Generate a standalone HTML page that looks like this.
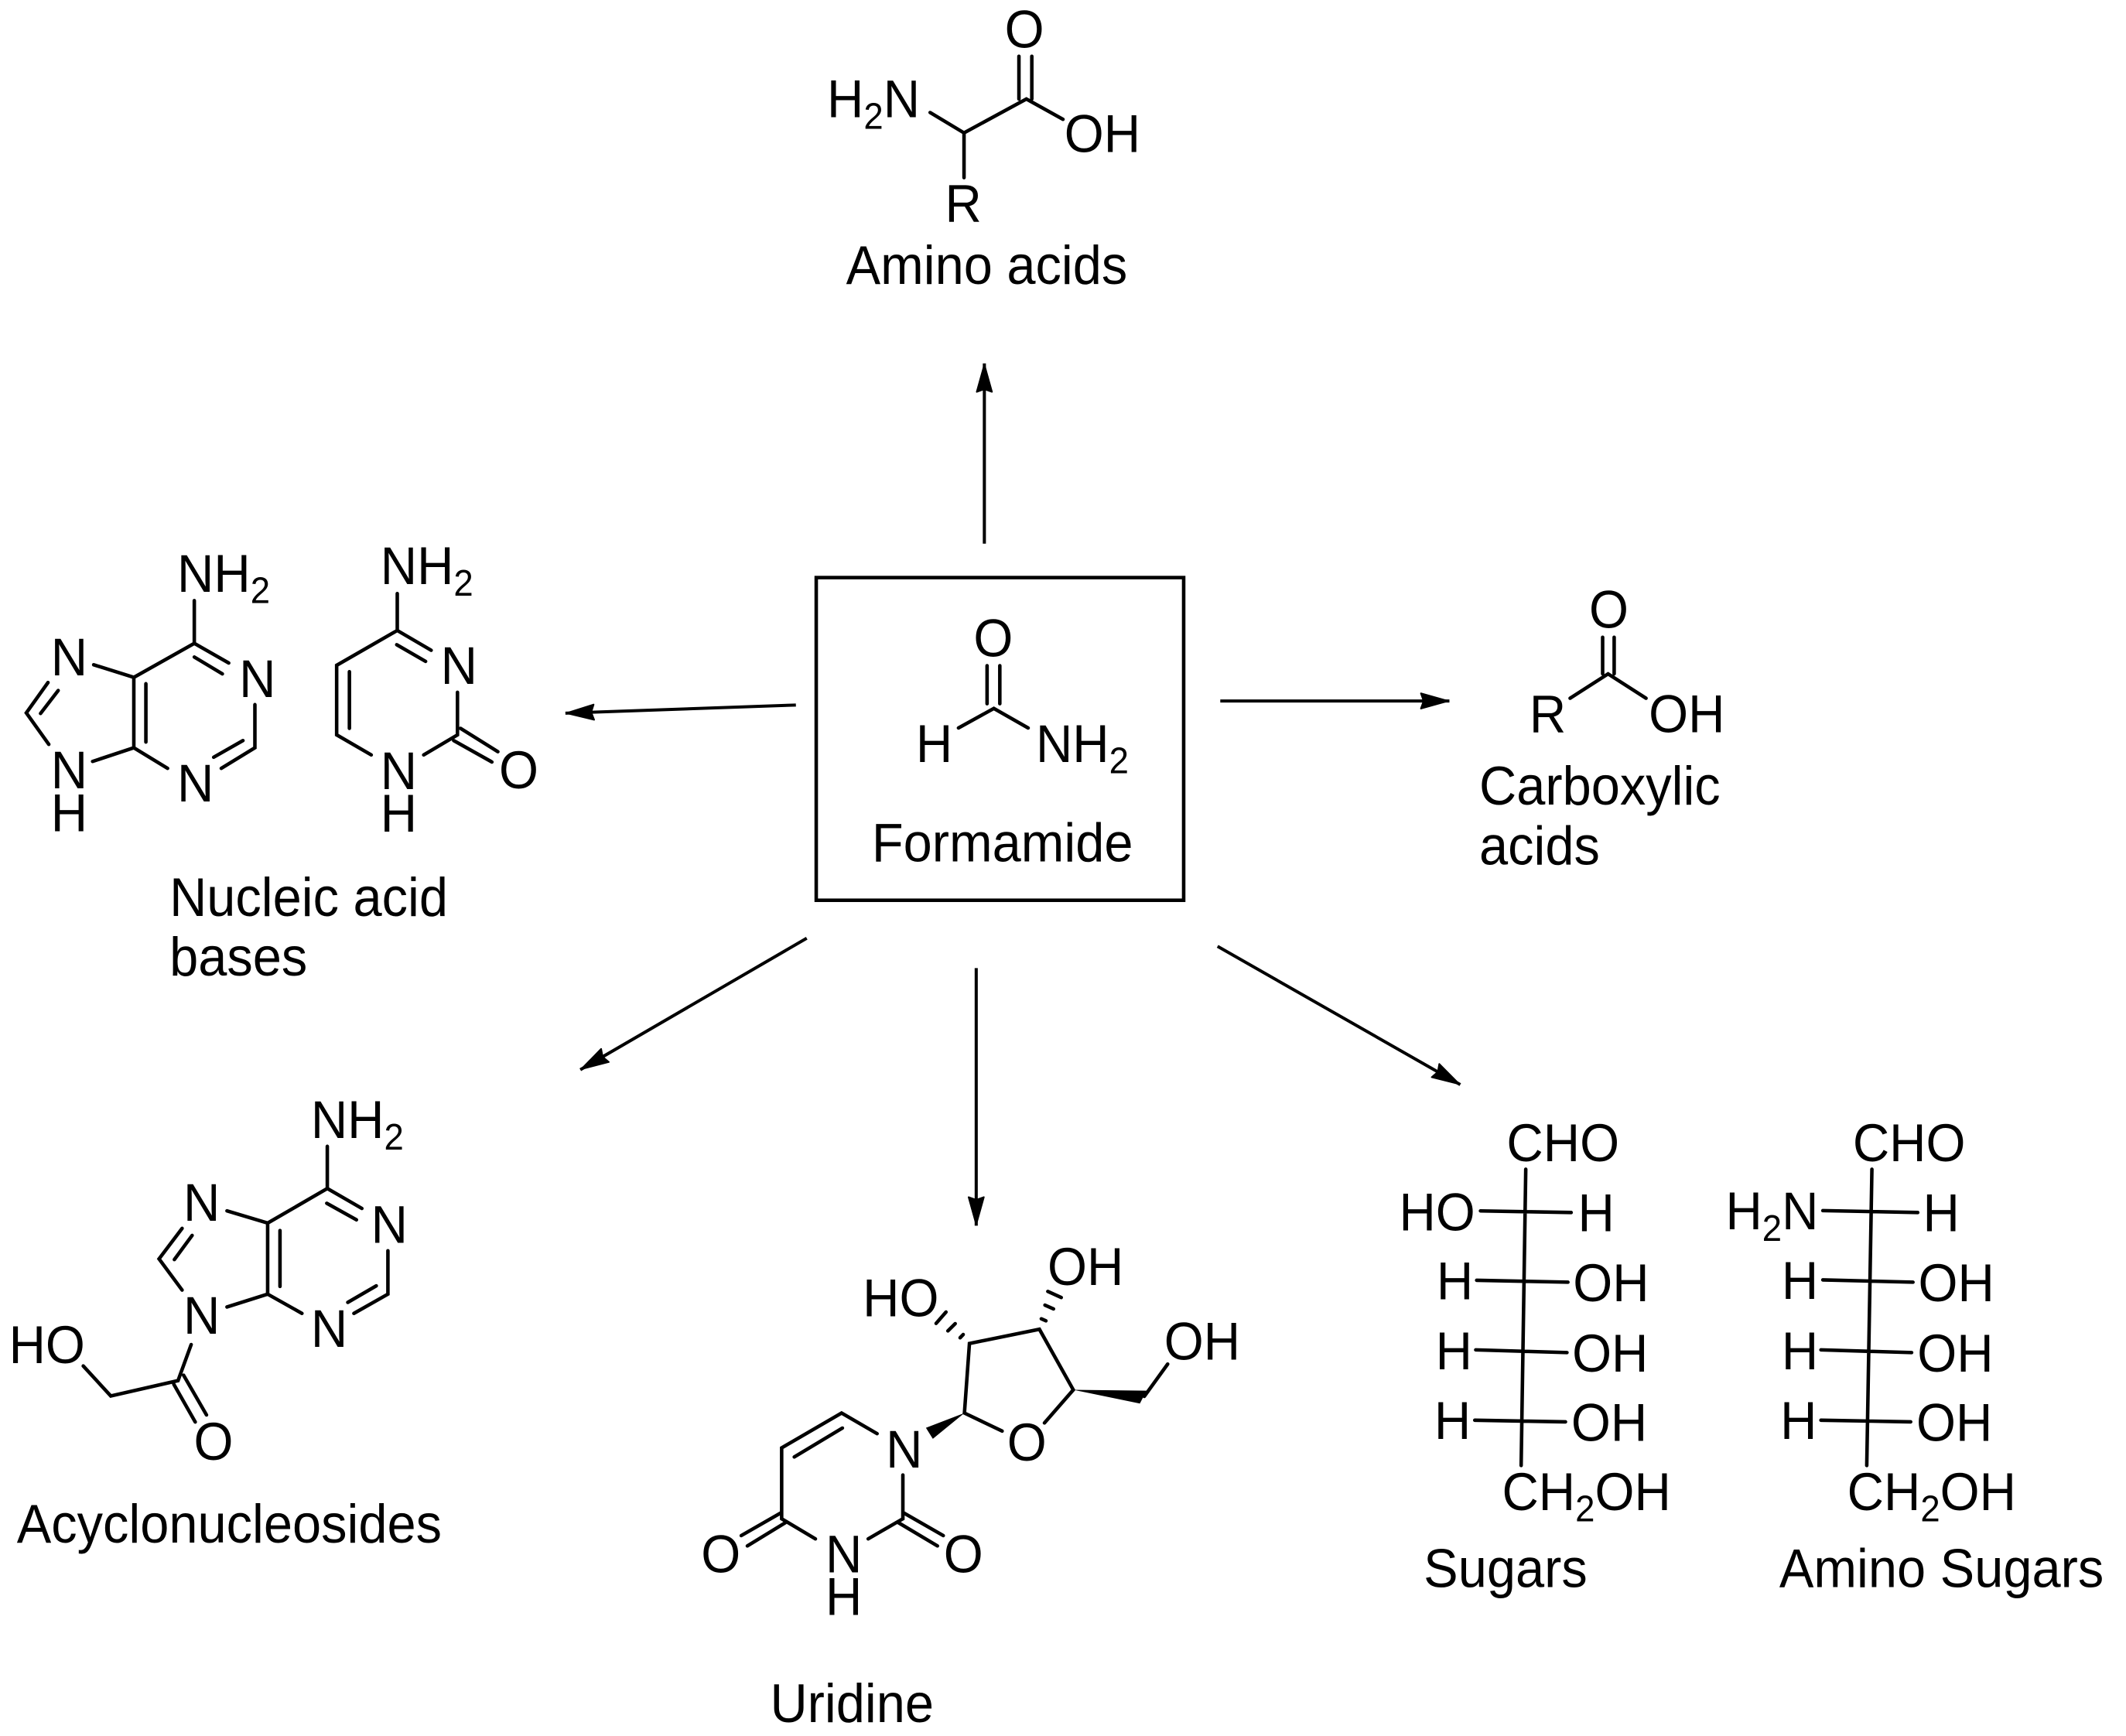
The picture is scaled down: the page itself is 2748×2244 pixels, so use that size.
<!DOCTYPE html>
<html><head><meta charset="utf-8"><title>Formamide</title>
<style>
html,body{margin:0;padding:0;background:#fff}
svg{display:block}
text{font-family:"Liberation Sans",Arial,sans-serif;font-size:37.4px;fill:#000;translate:-2px 0}
text.c{font-size:38.1px;translate:0 0}
tspan.s{font-size:26px}
.b{fill:none;stroke:#000;stroke-width:2.6;stroke-linecap:round;stroke-linejoin:miter}
.a{fill:none;stroke:#000;stroke-width:2.3;marker-end:url(#ah)}
</style></head><body>
<svg width="2748" height="2244" viewBox="0 0 1568 1280.4" xmlns="http://www.w3.org/2000/svg">
<defs><marker id="ah" markerUnits="userSpaceOnUse" markerWidth="26" markerHeight="18" refX="22" refY="8" orient="auto"><path d="M1 2.4L21 8L1 13.6L3 8Z" fill="#000" stroke="#000" stroke-width="1.2" stroke-linejoin="round"/></marker></defs>
<rect width="1568" height="1280.4" fill="#fff"/>

<!-- arrows -->
<path class="a" d="M726 401L726 268"/>
<path class="a" d="M587 520L417 526"/>
<path class="a" d="M900 517L1069 517"/>
<path class="a" d="M595 692L428 789"/>
<path class="a" d="M720 714L720 904"/>
<path class="a" d="M898 698L1077 800"/>

<!-- formamide -->
<rect x="602" y="426" width="271" height="238" fill="none" stroke="#000" stroke-width="2.6"/>
<path class="b" d="M728 491V519M737.4 491V519M706.9 536.9L733 522.5L758.3 536.9"/>
<text transform="translate(720 484) scale(1 1.05)">O</text>
<text transform="translate(677.5 562) scale(1 1.05)">H</text>
<text transform="translate(766 562) scale(1 1.05)">NH<tspan class="s" dy="8">2</tspan></text>
<text class="c" transform="translate(643 635.3) scale(1 1.05)">Formamide</text>

<!-- amino acid -->
<path class="b" d="M686 83L711 98L757 73L784 88M711 98V131M751.5 41.5V73M761 41.5V73"/>
<text transform="translate(612 86.5) scale(1 1.05)">H<tspan class="s" dy="8">2</tspan><tspan dy="-8">N</tspan></text>
<text transform="translate(743 35) scale(1 1.05)">O</text>
<text transform="translate(787 112) scale(1 1.05)">OH</text>
<text transform="translate(699 163.5) scale(1 1.05)">R</text>
<text class="c" transform="translate(624 209.5) scale(1 1.05)">Amino acids</text>

<!-- carboxylic -->
<path class="b" d="M1158 515L1186 497L1214 515M1182 470V497M1190.5 470V497"/>
<text transform="translate(1174 463) scale(1 1.05)">O</text>
<text transform="translate(1130 540) scale(1 1.05)">R</text>
<text transform="translate(1218 540) scale(1 1.05)">OH</text>
<text class="c" transform="translate(1091 593.5) scale(1 1.05)">Carboxylic</text>
<text class="c" transform="translate(1091 637.5) scale(1 1.05)">acids</text>

<!-- adenine -->
<path class="b" d="M143.3 443V474.5M168.7 489L143.3 474.5L98.7 499.6V551.5L123.6 566.7M143.3 484.6L164 497M107.6 504.3V547.3M98.7 499.6L69.1 490.3M98.7 551.5L68.3 561.6M35.4 503.4L19.4 525.8L36 549M29.9 526.2L42.9 509.3M188 519.7V551.5L163.2 566.7M179.2 546.2L157.6 558.5"/>
<text transform="translate(132.7 436.5) scale(1 1.05)">NH<tspan class="s" dy="8">2</tspan></text>
<text transform="translate(178.4 514) scale(1 1.05)">N</text>
<text transform="translate(132.7 591) scale(1 1.05)">N</text>
<text transform="translate(39.5 498) scale(1 1.05)">N</text>
<text transform="translate(39.5 581.5) scale(1 1.05)">N</text>
<text transform="translate(39.5 613) scale(1 1.05)">H</text>

<!-- cytosine -->
<path class="b" d="M293 437.8V465M318 479.6L293 465L248.3 490.7V542L273.8 556.8M292.6 475.5L313.9 487.8M257.7 495.4V537.2M337.4 510.6V542L312.5 556.8M339.6 537.2L367.2 554.4M334.6 546.2L362.8 562"/>
<text transform="translate(282.6 430.8) scale(1 1.05)">NH<tspan class="s" dy="8">2</tspan></text>
<text transform="translate(327 504.3) scale(1 1.05)">N</text>
<text transform="translate(282.6 582) scale(1 1.05)">N</text>
<text transform="translate(282.6 613.3) scale(1 1.05)">H</text>
<text transform="translate(370 581.5) scale(1 1.05)">O</text>
<text class="c" transform="translate(125 675.5) scale(1 1.05)">Nucleic acid</text>
<text class="c" transform="translate(125 719.5) scale(1 1.05)">bases</text>

<!-- acyclonucleoside -->
<path class="b" d="M241.4 845.5V876.6M266.9 891.3L241.4 876.6L197.4 902.1V954.5L222.7 968.7M241 887.5L262.9 899.7M206.5 907.6V948.8M197.4 902.1L167.4 893.1M197.4 954.5L167.4 964M134.3 906L117.3 928.5L134.3 951.5M128.6 929L141.7 911.2M286.1 922.5V954.5L261 968.7M277.5 948.4L256.5 960.6M141 991.7L131.3 1018.3L81.7 1029.6L61.4 1007.5M135.4 1014.3L152.3 1043.6M128.2 1021L144 1048.8"/>
<text transform="translate(231.3 839.4) scale(1 1.05)">NH<tspan class="s" dy="8">2</tspan></text>
<text transform="translate(275.7 916.6) scale(1 1.05)">N</text>
<text transform="translate(231.3 993.5) scale(1 1.05)">N</text>
<text transform="translate(137.2 900.3) scale(1 1.05)">N</text>
<text transform="translate(137.2 983.8) scale(1 1.05)">N</text>
<text transform="translate(8.6 1005.3) scale(1 1.05)">HO</text>
<text transform="translate(144.9 1076.8) scale(1 1.05)">O</text>
<text class="c" transform="translate(12.4 1137.8) scale(1 1.05)">Acyclonucleosides</text>

<!-- uridine -->
<path class="b" d="M646.9 1057.4L620.7 1042.2L576.5 1067.9V1120.2L601.4 1135M621.3 1053.3L585.8 1074.6M665.9 1087.9V1120.2L640.3 1135M576.5 1115.5L546.7 1132.6M579.3 1123L551.2 1140.2M665.9 1115.5L695.7 1132.6M662.5 1123L691.4 1140.2M739.1 1055.5L711.3 1042.2L715 990.9L766.6 980.4L791.6 1025.1L770.3 1049.5M844 1029.9L861.2 1006.1"/>
<path d="M711.3 1042.2L682.9 1053.1L688 1061.2Z" fill="#000"/>
<path d="M791.6 1025.1L845.6 1025.7L840.7 1035.2Z" fill="#000"/>
<path class="b" d="M708.1 986.7L710.4 984.3M699.1 981.6L704.5 976.3M690.4 976.1L697.7 967.7M768 972.7L771.4 974.2M770.7 962.6L777 965.4M772.8 952.5L782.7 957"/>
<text transform="translate(655.4 1082.5) scale(1 1.05)">N</text>
<text transform="translate(610.8 1159.6) scale(1 1.05)">N</text>
<text transform="translate(610.8 1191) scale(1 1.05)">H</text>
<text transform="translate(519.1 1159.6) scale(1 1.05)">O</text>
<text transform="translate(698 1159.6) scale(1 1.05)">O</text>
<text transform="translate(744.8 1077.4) scale(1 1.05)">O</text>
<text transform="translate(860.6 1002.9) scale(1 1.05)">OH</text>
<text transform="translate(774.6 947.7) scale(1 1.05)">OH</text>
<text transform="translate(638.3 970.9) scale(1 1.05)">HO</text>
<text class="c" transform="translate(568 1270) scale(1 1.05)">Uridine</text>

<!-- sugars -->
<path class="b" d="M1125.3 862.4L1121.9 1080.9M1091.9 893.1L1158.8 894.3M1089.1 944.3L1156.4 945.7M1088.4 995.6L1155.7 997.6M1087.7 1047.5L1154.6 1048.7"/>
<text transform="translate(1113.2 856.4) scale(1 1.05)">CHO</text>
<text transform="translate(1033.9 907.5) scale(1 1.05)">HO</text>
<text transform="translate(1165.7 908) scale(1 1.05)">H</text>
<text transform="translate(1061.5 958.4) scale(1 1.05)">H</text>
<text transform="translate(1162.2 959.6) scale(1 1.05)">OH</text>
<text transform="translate(1060.8 1010) scale(1 1.05)">H</text>
<text transform="translate(1161.5 1011.7) scale(1 1.05)">OH</text>
<text transform="translate(1059.8 1061.2) scale(1 1.05)">H</text>
<text transform="translate(1160.8 1062.8) scale(1 1.05)">OH</text>
<text transform="translate(1109.8 1113.7) scale(1 1.05)">CH<tspan class="s" dy="8">2</tspan><tspan dy="-8">OH</tspan></text>
<text class="c" transform="translate(1050 1170.7) scale(1 1.05)">Sugars</text>

<!-- amino sugars -->
<path class="b" d="M1380.6 862.4L1376.8 1080.9M1344.4 892.9L1414.4 894.3M1344.4 944L1410.9 945.7M1343 995.6L1409.9 997.6M1343 1047.5L1409.2 1048.7"/>
<text transform="translate(1368.5 856.4) scale(1 1.05)">CHO</text>
<text transform="translate(1274.7 906.8) scale(1 1.05)">H<tspan class="s" dy="8">2</tspan><tspan dy="-8">N</tspan></text>
<text transform="translate(1420.2 908) scale(1 1.05)">H</text>
<text transform="translate(1316 958) scale(1 1.05)">H</text>
<text transform="translate(1416.8 959.6) scale(1 1.05)">OH</text>
<text transform="translate(1316 1010) scale(1 1.05)">H</text>
<text transform="translate(1416.1 1011.7) scale(1 1.05)">OH</text>
<text transform="translate(1315 1061.2) scale(1 1.05)">H</text>
<text transform="translate(1415.4 1062.8) scale(1 1.05)">OH</text>
<text transform="translate(1364.4 1113.7) scale(1 1.05)">CH<tspan class="s" dy="8">2</tspan><tspan dy="-8">OH</tspan></text>
<text class="c" transform="translate(1312.3 1170.7) scale(1 1.05)">Amino Sugars</text>
</svg>
</body></html>
